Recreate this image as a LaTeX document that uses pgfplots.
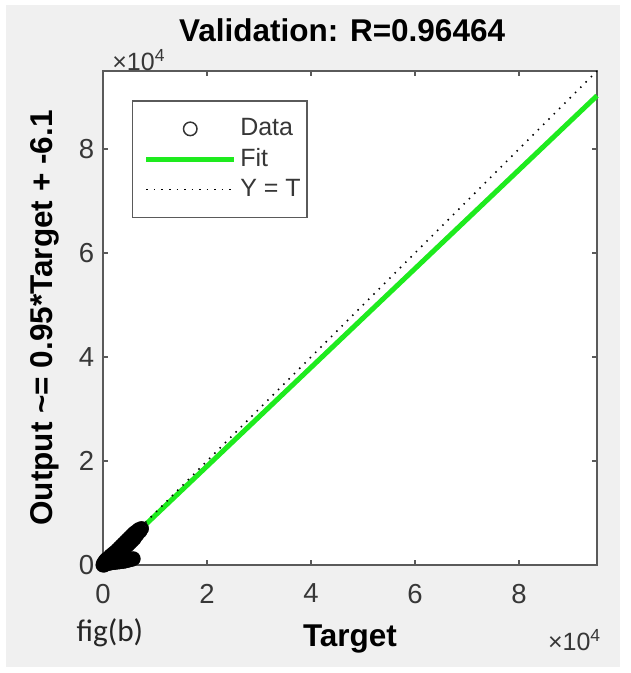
\documentclass[border=0pt]{standalone}
\usepackage{fontspec}
\setmainfont{Liberation Sans}
\newfontfamily\figfont{Carlito}
\usepackage{pgfplots}
\pgfplotsset{compat=1.18}
\definecolor{bggray}{RGB}{240,240,240}
\definecolor{fitgreen}{RGB}{30,235,30}
\definecolor{axgray}{RGB}{90,90,90}
\definecolor{lblgray}{RGB}{55,55,55}
\def\u{0.4pt}

% validation data: target / output
\pgfplotstableread{
x y
0 0
100 300
250 0
300 600
500 200
500 900
700 500
800 1200
1000 300
1000 800
1200 1400
1300 700
1500 1100
1500 1800
1700 900
1800 1500
2000 2200
2000 1300
2200 1700
2400 2500
2400 1500
2600 2100
2800 2900
2800 1900
3000 2500
3200 3300
3200 2300
3400 2900
3600 3700
3600 2700
3800 3300
4000 4100
4000 3100
4200 3700
4400 4500
4400 3500
4600 4100
4800 4900
4800 3900
5000 4500
5200 5300
5200 4300
5400 4900
5600 5700
5600 4700
5800 5300
6000 6100
6000 5100
6200 5700
6400 6400
6500 5800
6700 6300
6900 6800
7100 6500
7400 7000
300 200
700 300
1100 400
1500 400
1900 500
2300 500
2700 600
3100 600
3500 700
3900 700
4300 800
4700 900
5100 1000
5500 1100
5800 1200
}\datatable

\begin{document}
\begin{tikzpicture}
\path[use as bounding box, fill=white] (0,0) rectangle (631*\u,673*\u);
\fill[bggray] (6*\u,6*\u) rectangle (620*\u,668*\u);
\begin{axis}[
  at={(103*\u,108*\u)}, anchor=south west,
  scale only axis, width=197.6pt, height=197.6pt,
  xmin=0, xmax=95000, ymin=0, ymax=95000,
  scaled ticks=false,
  xtick={0,20000,40000,60000,80000}, xticklabels={0,2,4,6,8},
  ytick={0,20000,40000,60000,80000}, yticklabels={0,2,4,6,8},
  tick align=inside, major tick length=2pt,
  axis line style={axgray, line width=0.8pt},
  every tick/.style={axgray, line width=0.6pt},
  tick label style={font=\fontsize{11}{13}\selectfont, text=lblgray},
  xticklabel style={yshift=-4pt},
  axis background/.style={fill=white},
  title={Validation: R=0.96464},
  title style={at={(axis description cs:0.484,1.053)}, anchor=center, font=\bfseries\fontsize{12.6}{15}\selectfont},
  xlabel={Target},
  xlabel style={at={(axis description cs:0.5,-0.150)}, anchor=center, font=\bfseries\fontsize{12.6}{15}\selectfont},
  ylabel={Output \textasciitilde= 0.95*Target + -6.1},
  ylabel style={at={(axis description cs:-0.117,0.5)}, anchor=center, font=\bfseries\fontsize{12.6}{15}\selectfont},
  legend style={at={(axis description cs:0.0587,0.941)}, anchor=north west, draw=axgray, line width=0.6pt, fill=white, font=\fontsize{10}{12}\selectfont, text=lblgray, inner xsep=1pt, inner ysep=5.5pt, row sep=0.6pt, nodes={inner sep=1.5pt}},
  legend cell align=left,
  legend image code/.code={\path (-3.5pt,0pt); \draw[mark repeat=2,mark phase=2] plot coordinates {(0pt,0pt) (17.5pt,0pt) (35pt,0pt)};},
  clip=false,
]
\addplot[only marks, mark=o, mark size=2.7pt, mark options={line width=0.6pt, draw=black!80}] table[x=x,y=y] {\datatable};
\addlegendentry{Data}
\addplot[fitgreen, line width=2pt] coordinates {(0,-6.1) (95000,90243.9)};
\addlegendentry{Fit}
\addplot[black, line width=0.6pt, dash pattern=on 0.6pt off 2.4pt] coordinates {(0,0) (95000,95000)};
\addlegendentry{Y = T}
\addplot[forget plot, only marks, mark=o, mark size=2.4pt, mark options={line width=1pt, draw=black}] table[x=x,y=y] {\datatable};
\node[font=\fontsize{10}{12}\selectfont, text=lblgray] at (axis description cs:0.073,1.022) {×10\textsuperscript{4}};
\node[font=\fontsize{10}{12}\selectfont, text=lblgray] at (axis description cs:0.955,-0.152) {×10\textsuperscript{4}};
\node[font=\figfont\fontsize{12.5}{15}\selectfont, text=black!85] at (axis description cs:0.014,-0.138) {fig(b)};
\end{axis}
\end{tikzpicture}
\end{document}
